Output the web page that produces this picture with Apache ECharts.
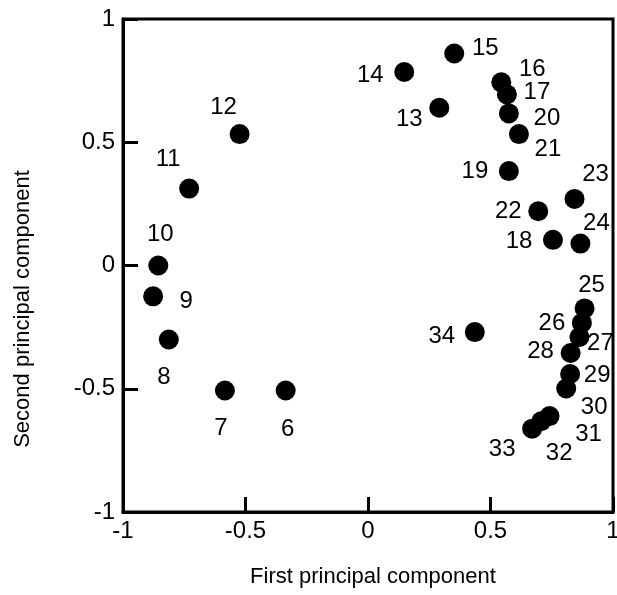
<!DOCTYPE html>
<html>
<head>
<meta charset="utf-8">
<script src="https://cdn.jsdelivr.net/npm/echarts@6/dist/echarts.min.js"></script>
<style>
html,body{margin:0;padding:0;background:#fff;}
#chart{width:617px;height:595px;}
</style>
</head>
<body>
<div id="chart"></div>
<script>
// ---- data ----
var pointIds = ['6','7','8','9','10','11','12','13','14','15','16','17','18','19','20','21','22','23','24','25','26','27','28','29','30','31','32','33','34'];
var firstPC  = [-0.336,-0.584,-0.813,-0.877,-0.856,-0.730,-0.524,0.291,0.148,0.352,0.544,0.567,0.755,0.575,0.575,0.616,0.695,0.843,0.867,0.884,0.873,0.863,0.827,0.825,0.809,0.741,0.707,0.670,0.436];
var secondPC = [-0.507,-0.507,-0.300,-0.125,0.000,0.312,0.533,0.640,0.785,0.860,0.743,0.694,0.104,0.383,0.617,0.533,0.220,0.270,0.089,-0.174,-0.233,-0.290,-0.355,-0.440,-0.499,-0.611,-0.632,-0.662,-0.270];
var xTicks = [-1,-0.5,0,0.5,1];
var yTicks = [-1,-0.5,0,0.5,1];
var xTitle = 'First principal component';
var yTitle = 'Second principal component';

// ---- label placement (style, pixel offsets from each marker) ----
var labelOffset = {
  '6':[2,39],'7':[-4,38],'8':[-5,38],'9':[33,5],'10':[2,-31],'11':[-21,-29],'12':[-16,-27],
  '13':[-30,12],'14':[-34,3],'15':[31,-5],'16':[31,-13],'17':[30,-2],'18':[-34,2],'19':[-34,0],
  '20':[38,5],'21':[29,15],'22':[-30,0],'23':[21,-25],'24':[16,-20],'25':[7,-23],'26':[-30,0],
  '27':[21,6],'28':[-30,-2],'29':[27,1],'30':[28,19],'31':[39,18],'32':[18,32],'33':[-30,21],'34':[-33,4]
};

var FONT = '"Liberation Sans", Arial, Helvetica, sans-serif';
var data = pointIds.map(function(id, i){
  return {
    value:[firstPC[i], secondPC[i]],
    name:id,
    label:{show:true, position:'inside', offset:labelOffset[id], formatter:id}
  };
});

var chart = echarts.init(document.getElementById('chart'), null, {renderer:'canvas'});
function axis(ticks, margin){
  return {
    type:'value', min:ticks[0], max:ticks[ticks.length-1], interval:ticks[1]-ticks[0],
    axisLine:{show:true, onZero:false, lineStyle:{color:'#000', width:3}},
    axisTick:{show:true, inside:true, length:15, lineStyle:{color:'#000', width:3}},
    splitLine:{show:false},
    axisLabel:{color:'#000', fontSize:24, fontFamily:FONT, margin:margin,
      formatter:function(v){ return String(Math.round(v*10)/10); }}
  };
}
chart.setOption({
  animation:false,
  backgroundColor:'#fff',
  grid:{left:123, right:4, top:19, bottom:83, containLabel:false, outerBoundsMode:'none',
        show:true, borderColor:'#000', borderWidth:3},
  xAxis:axis(xTicks, 7),
  yAxis:axis(yTicks, 8),
  graphic:[
    {type:'text', style:{text:xTitle, fill:'#000', font:'22px '+FONT, textAlign:'center', textVerticalAlign:'middle'}, position:[373,577]},
    {type:'text', style:{text:yTitle, fill:'#000', font:'22px '+FONT, textAlign:'center', textVerticalAlign:'middle'}, position:[23,309], rotation:Math.PI/2}
  ],
  series:[{
    type:'scatter',
    symbol:'circle',
    symbolSize:20,
    itemStyle:{color:'#000', opacity:1},
    label:{color:'#000', fontSize:24, fontFamily:FONT},
    data:data
  }]
});
</script>
</body>
</html>
